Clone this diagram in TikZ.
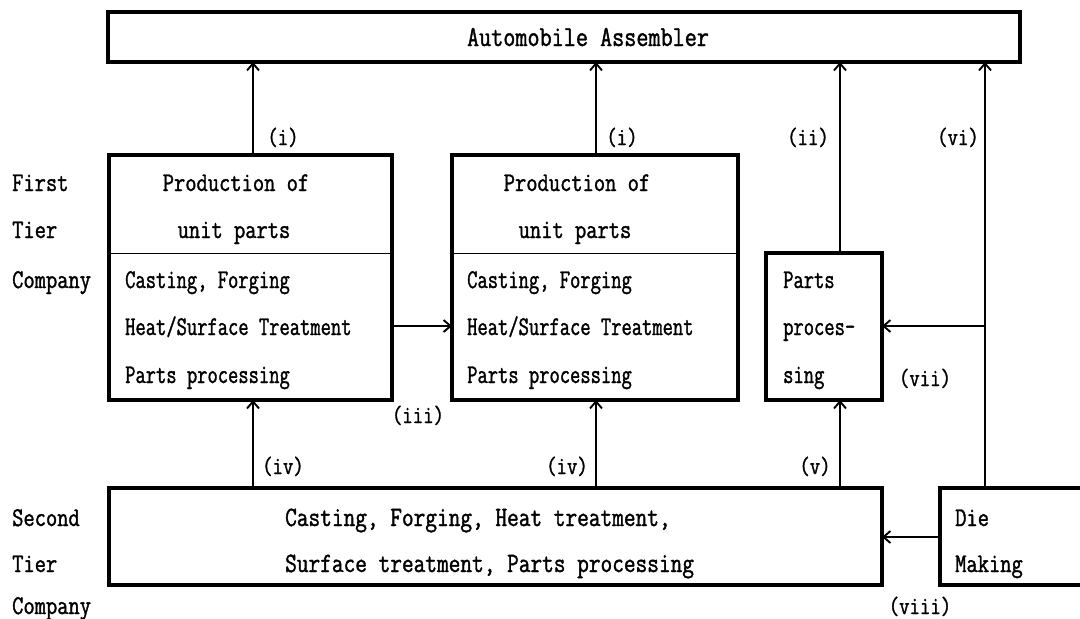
\documentclass[tikz,border=0pt]{standalone}
\usepackage{fontspec}
\usetikzlibrary{arrows.meta}
\newfontfamily\fnarrow[FakeStretch=0.74,FakeBold=1.3]{Latin Modern Mono}
\newfontfamily\fwide[FakeStretch=0.81,FakeBold=1.3]{Latin Modern Mono}
\begin{document}
\begin{tikzpicture}[x=1pt,y=-1pt,
  box/.style={draw, line width=3.4pt, inner sep=0pt, outer sep=0pt},
  arr/.style={line width=1.8pt, -{Straight Barb[length=7pt,width=12pt,line width=1.9pt]}},
  divider/.style={line width=0.9pt},
  body/.style={inner sep=0pt, anchor=base west, font=\fnarrow\fontsize{27}{31}\selectfont},
  head/.style={inner sep=0pt, anchor=base, font=\fwide\fontsize{27}{31}\selectfont},
  side/.style={inner sep=0pt, anchor=base west, font=\fwide\fontsize{27}{31}\selectfont},
  wide/.style={inner sep=0pt, anchor=base west, font=\fwide\fontsize{28}{32}\selectfont},
  lab/.style={inner sep=0pt, anchor=base, font=\fwide\fontsize{25}{29}\selectfont},
  title/.style={inner sep=0pt, anchor=base, font=\fwide\fontsize{29}{33}\selectfont}
]
\useasboundingbox[fill=white] (0,0) rectangle (1080,619);

% boxes
\node[box, minimum width=912, minimum height=50] (asm) at (564,37) {};
\node[box, minimum width=283, minimum height=245] (b1) at (250.5,277.5) {};
\node[box, minimum width=286, minimum height=245] (b2) at (595,277.5) {};
\node[box, minimum width=116, minimum height=147] (pp) at (824,326.5) {};
\node[box, minimum width=773, minimum height=97] (st) at (495.5,536.5) {};
\node[box, minimum width=155, minimum height=97] (die) at (1017.5,536.5) {};

% dividers
\draw[divider] (b1.west |- 0,253) -- (b1.east |- 0,253);
\draw[divider] (b2.west |- 0,253) -- (b2.east |- 0,253);

% helper coordinates
\coordinate (xa) at (253,0);
\coordinate (xb) at (596,0);
\coordinate (xc) at (840,0);
\coordinate (xd) at (985,0);
\coordinate (yh) at (0,326);
\coordinate (yv) at (0,537);
\coordinate (vj) at (xd |- yh);

% connectors
\draw[arr] (b1.north -| xa) -- (asm.south -| xa);
\draw[arr] (b2.north -| xb) -- (asm.south -| xb);
\draw[arr] (pp.north -| xc) -- (asm.south -| xc);
\draw[arr] (die.north -| xd) -- (asm.south -| xd);
\draw[arr] (b1.east |- yh) -- (b2.west |- yh);
\draw[arr] (vj) -- (pp.east |- yh);
\draw[arr] (st.north -| xa) -- (b1.south -| xa);
\draw[arr] (st.north -| xb) -- (b2.south -| xb);
\draw[arr] (st.north -| xc) -- (pp.south -| xc);
\draw[arr] (die.west |- yv) -- (st.east |- yv);

% texts
\node[title] (tasm) at (588,46) {Automobile Assembler};

\node[head] (t1a) at (236,191) {Production of};
\node[head] (t1b) at (234,238) {unit parts};
\node[body] (t1c) at (125,288) {Casting, Forging};
\node[body] (t1d) at (125,335) {Heat/Surface Treatment};
\node[body] (t1e) at (125,383) {Parts processing};

\node[head] (t2a) at (577,191) {Production of};
\node[head] (t2b) at (575,238) {unit parts};
\node[body] (t2c) at (467,288) {Casting, Forging};
\node[body] (t2d) at (467,335) {Heat/Surface Treatment};
\node[body] (t2e) at (467,383) {Parts processing};

\node[body] (tpa) at (783,288) {Parts};
\node[body] (tpb) at (783,335) {proces-};
\node[body] (tpc) at (783,383) {sing};

\node[wide] (tsa) at (285,526) {Casting, Forging, Heat treatment,};
\node[wide] (tsb) at (285,572) {Surface treatment, Parts processing};

\node[side] (tda) at (955,526) {Die};
\node[side] (tdb) at (955,572) {Making};

\node[side] (l1) at (12,191) {First};
\node[side] (l2) at (12,238) {Tier};
\node[side] (l3) at (12,288) {Company};
\node[side] (l4) at (12,526) {Second};
\node[side] (l5) at (12,572) {Tier};
\node[side] (l6) at (12,614) {Company};

% connector labels
\node[lab] (la) at (283,145) {(i)};
\node[lab] (lb) at (622,145) {(i)};
\node[lab] (lc) at (808,145) {(ii)};
\node[lab] (ld) at (958,145) {(vi)};
\node[lab] (le) at (418,423) {(iii)};
\node[lab] (lf) at (283,474) {(iv)};
\node[lab] (lg) at (567,474) {(iv)};
\node[lab] (lh) at (815,474) {(v)};
\node[lab] (li) at (925,386) {(vii)};
\node[lab] (lj) at (920,614) {(viii)};
\end{tikzpicture}
\end{document}
